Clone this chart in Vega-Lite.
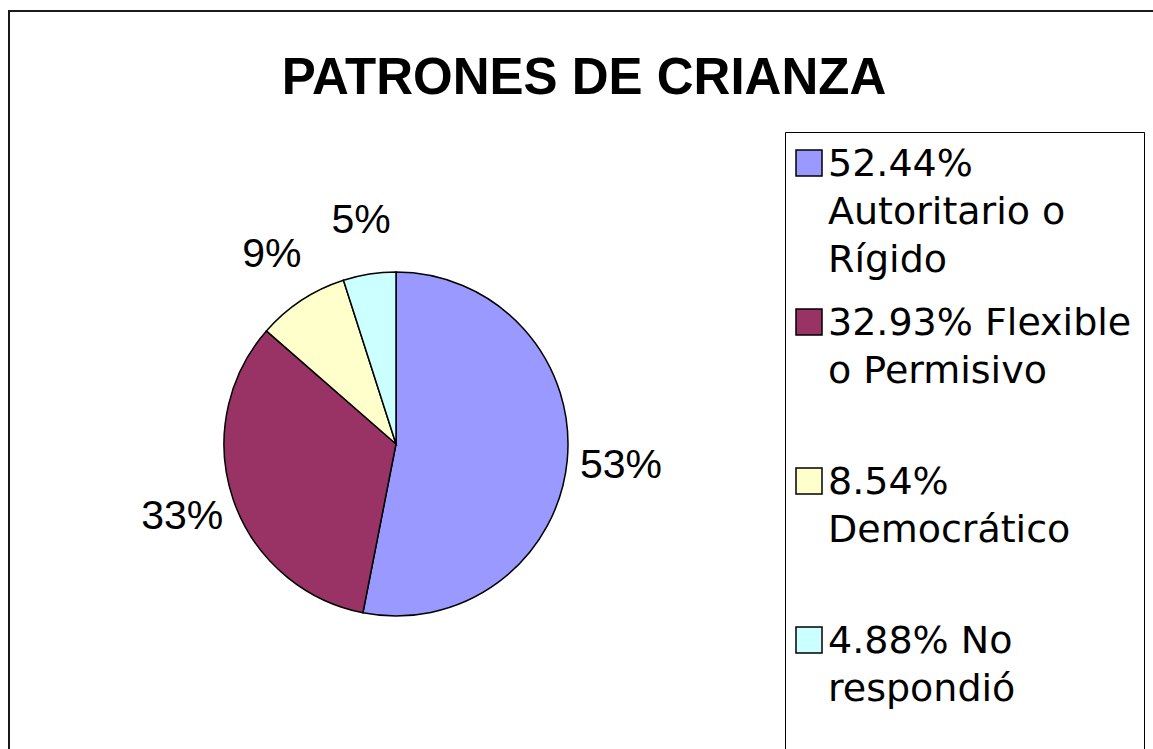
{
  "$schema": "https://vega.github.io/schema/vega-lite/v6.json",
  "width": 1160,
  "height": 866,
  "autosize": {"type": "none"},
  "padding": {"left": 9, "top": 11, "right": 0, "bottom": 0},
  "background": "white",
  "view": {"stroke": "#1a1a1a", "strokeWidth": 2},
  "title": {
    "text": "PATRONES DE CRIANZA",
    "font": "Liberation Sans",
    "fontSize": 51,
    "fontWeight": "bold",
    "color": "black",
    "anchor": "middle",
    "baseline": "alphabetic",
    "offset": -134,
    "dx": -5
  },
  "config": {
    "view": {"stroke": "#1a1a1a", "strokeWidth": 2},
    "style": {"guide-label": {"lineHeight": 48, "dy": 13}}
  },
  "data": {
    "values": [
      {"categoria": "52.44% Autoritario o Rígido", "porcentaje": 52.44, "etiqueta": "53%", "orden": 1},
      {"categoria": "32.93% Flexible o Permisivo", "porcentaje": 32.93, "etiqueta": "33%", "orden": 2},
      {"categoria": "8.54% Democrático", "porcentaje": 8.54, "etiqueta": "9%", "orden": 3},
      {"categoria": "4.88% No respondió", "porcentaje": 4.88, "etiqueta": "5%", "orden": 4}
    ]
  },
  "encoding": {
    "theta": {"field": "porcentaje", "type": "quantitative", "stack": true},
    "order": {"field": "orden", "type": "quantitative"}
  },
  "layer": [
    {
      "mark": {"type": "arc", "outerRadius": 172, "xOffset": -193, "stroke": "black", "strokeWidth": 1.5},
      "encoding": {
        "color": {
          "field": "categoria",
          "type": "nominal",
          "sort": null,
          "scale": {
            "domain": ["52.44% Autoritario o Rígido", "32.93% Flexible o Permisivo", "8.54% Democrático", "4.88% No respondió"],
            "range": ["#9999FF", "#993366", "#FFFFCC", "#CCFFFF"]
          },
          "legend": {
            "orient": "none",
            "legendX": 776,
            "legendY": 121,
            "title": null,
            "symbolType": "square",
            "symbolSize": 676,
            "symbolStrokeColor": "black",
            "symbolStrokeWidth": 1.5,
            "symbolOffset": -7,
            "labelFont": "DejaVu Sans",
            "labelFontSize": 38,
            "labelColor": "black",
            "labelLimit": 500,
            "labelOffset": 0,
            "labelBaseline": "alphabetic",
            "rowPadding": 23,
            "padding": 12,
            "strokeColor": "black",
            "labelExpr": "datum.label === '52.44% Autoritario o Rígido' ? ['52.44%', 'Autoritario o', 'Rígido'] : datum.label === '32.93% Flexible o Permisivo' ? ['32.93% Flexible', 'o Permisivo', ' '] : datum.label === '8.54% Democrático' ? ['8.54%', 'Democrático', ' '] : ['4.88% No', 'respondió', ' ']"
          }
        }
      }
    },
    {
      "mark": {"type": "text", "radius": 226, "xOffset": -193, "font": "Liberation Sans", "fontSize": 41, "fill": "black"},
      "encoding": {
        "text": {"field": "etiqueta", "type": "nominal"}
      }
    }
  ]
}
